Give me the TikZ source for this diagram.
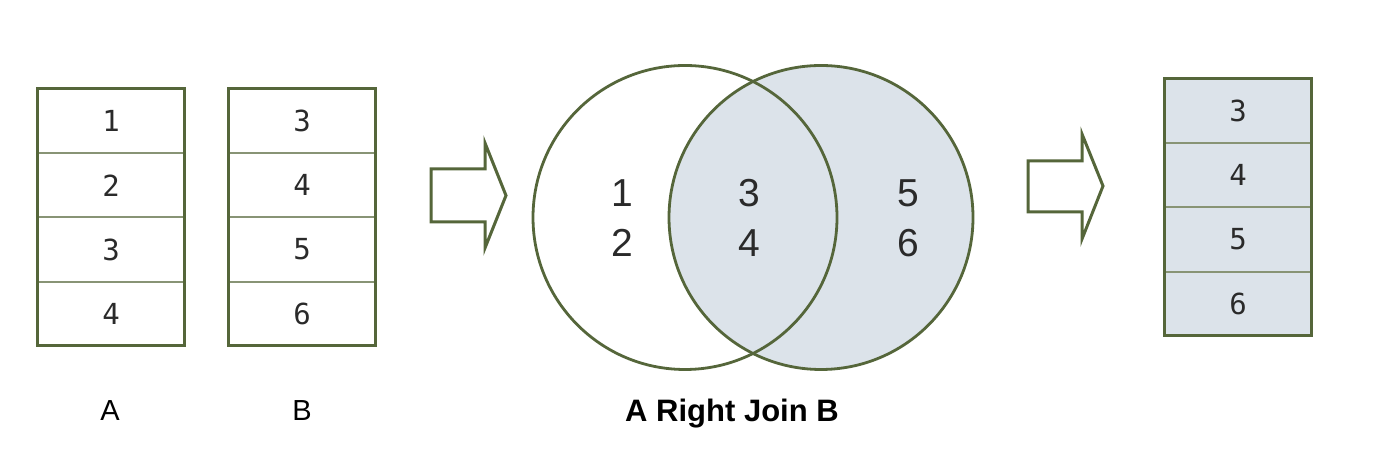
\documentclass[tikz,border=0pt]{standalone}
\usepackage{fontspec}
\setmainfont{Liberation Sans}
\newfontfamily\cellfont{DejaVu Sans Mono}
\usetikzlibrary{positioning}
\definecolor{joinline}{HTML}{55663A}
\definecolor{joinfill}{HTML}{DCE3EA}
\definecolor{digitgray}{HTML}{2A2A2A}
\tikzset{%
  % Specifications for style of nodes:
         cell/.style = {rectangle, draw=joinline!70, line width=2pt,
                        minimum width=146.5pt, minimum height=64.25pt,
                        inner sep=0pt, outer sep=0pt, text=digitgray,
                        font=\cellfont\fontsize{29}{29}\selectfont},
     bluecell/.style = {cell, fill=joinfill},
   tableframe/.style = {draw=joinline, line width=3pt},
   vennborder/.style = {draw=joinline, line width=2.8pt},
     bigarrow/.style = {draw=joinline, line width=3pt, line join=miter, fill=white},
    venndigit/.style = {text=digitgray, align=center,
                        font=\fontsize{39}{50}\selectfont},
     setlabel/.style = {anchor=base, text=black, font=\fontsize{29}{29}\selectfont},
}
\begin{document}
\begin{tikzpicture}[x=1pt, y=1pt]
  \useasboundingbox (0,0) rectangle (1380,462);

  % Table A
  \node (a1)  [cell] at (111,341) {1};
  \node (a2)  [cell, below=0pt of a1] {2};
  \node (a3)  [cell, below=0pt of a2] {3};
  \node (a4)  [cell, below=0pt of a3] {4};
  \draw[tableframe] (a1.north west) rectangle (a4.south east);

  % Table B
  \node (b1)  [cell] at (302,341) {3};
  \node (b2)  [cell, below=0pt of b1] {4};
  \node (b3)  [cell, below=0pt of b2] {5};
  \node (b4)  [cell, below=0pt of b3] {6};
  \draw[tableframe] (b1.north west) rectangle (b4.south east);

  \node (la)  [setlabel] at (110,41) {A};
  \node (lb)  [setlabel] at (302,41) {B};

  % first arrow
  \draw[bigarrow] (431,293) -- ++(54,0) -- ++(0,26) -- ++(21,-52.5)
                  -- ++(-21,-52.5) -- ++(0,26) -- ++(-54,0) -- cycle;

  % Venn diagram
  \fill[joinfill] (821,244.5) circle (152);
  \draw[vennborder] (821,244.5) circle (152);
  \draw[vennborder] (685,244.5) circle (152);

  \node (left)   [venndigit] at (622,244) {1\\2};
  \node (inner)  [venndigit] at (749,244) {3\\4};
  \node (right)  [venndigit] at (908,244) {5\\6};

  \node (join)   [setlabel, font=\bfseries\fontsize{31}{31}\selectfont] at (732,40) {A Right Join B};

  % second arrow
  \draw[bigarrow] (1028,301) -- ++(54,0) -- ++(0,27) -- ++(21,-52)
                  -- ++(-21,-53) -- ++(0,27) -- ++(-54,0) -- cycle;

  % Result table
  \node (c1)  [bluecell] at (1238,351) {3};
  \node (c2)  [bluecell, below=0pt of c1] {4};
  \node (c3)  [bluecell, below=0pt of c2] {5};
  \node (c4)  [bluecell, below=0pt of c3] {6};
  \draw[tableframe] (c1.north west) rectangle (c4.south east);

\end{tikzpicture}
\end{document}
